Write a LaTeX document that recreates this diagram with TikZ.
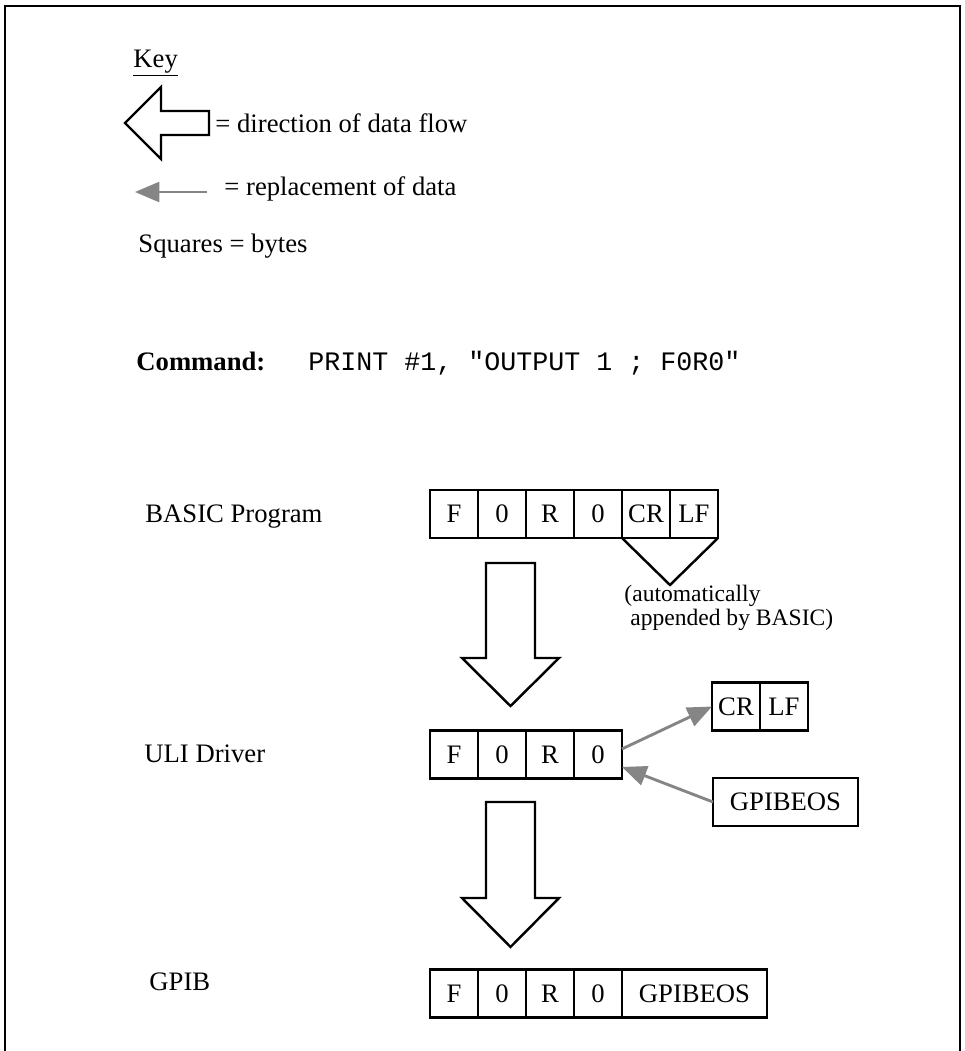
\documentclass[tikz,border=0pt]{standalone}
\usepackage{fontspec}
\setmainfont{Liberation Serif}
\setmonofont{Liberation Mono}
\usetikzlibrary{positioning,arrows.meta}

\definecolor{replgray}{rgb}{0.52,0.52,0.52}

\tikzset{
	byte/.style={draw, line width=1.2pt, outer sep=0pt, inner sep=0pt, minimum width=21.6pt, minimum height=21.6pt},
	widebyte/.style={byte, minimum width=65.25pt},
	flow/.style={draw, line width=1.1pt, line join=miter},
	replace/.style={draw=replgray, line width=1.3pt, -{Triangle[length=11pt,width=9pt]}},
	lbl/.style={anchor=base west, inner sep=0pt},
}

\begin{document}
\begin{tikzpicture}[x=0.45pt, y=-0.45pt, font=\fontsize{12}{14}\selectfont]
		\useasboundingbox (0,0) rectangle (964,1051);

		% frame, open at the bottom
		\draw [line width=0.9pt] (5,1051) -- (5,6) -- (960,6) -- (960,1051);

		% the key
		\node [lbl] (key) at (133,67) {\underline{Key}};
		\draw [flow] (209,111) -- (161,111) -- (161,87) -- (125,123) -- (161,159) -- (161,135) -- (209,135) -- cycle;
		\node [lbl] (keyflow) at (215,132) {= direction of data flow};

		\coordinate (keyR) at (207,192);
		\coordinate (keyL) at (135,192);
		\draw [replace] (keyR) -- (keyL);
		\node [lbl] (keyrepl) at (224,195) {= replacement of data};

		\node [lbl] (keybytes) at (138,252) {Squares = bytes};

		% the command
		\node [lbl] (cmd) at (136,370) {\textbf{Command:}};
		\node [lbl] (cmdtext) at (308,370) {\texttt{PRINT \#1, "OUTPUT 1 ; F0R0"}};

		% BASIC program
		\node [lbl] (basic) at (145,522) {BASIC Program};
		\node [byte] (b1) at (454,514) {F};
		\node [byte, right=0pt of b1] (b2) {0};
		\node [byte, right=0pt of b2] (b3) {R};
		\node [byte, right=0pt of b3] (b4) {0};
		\node [byte, right=0pt of b4] (b5) {CR};
		\node [byte, right=0pt of b5] (b6) {LF};

		\coordinate (apex) at (670,585);
		\draw [flow] (b5.south west) -- (apex) -- (b6.south east);
		\node [lbl, align=left, font=\fontsize{10.6}{12}\selectfont] (auto) at (624,625) {(automatically\\[-1.5pt]~appended by BASIC)};

		% first flow arrow
		\draw [flow] (486,563) -- (535,563) -- (535,658) -- (559,658) -- (510.5,706) -- (462,658) -- (486,658) -- cycle;

		% ULI driver
		\node [lbl] (uli) at (144,762) {ULI Driver};
		\node [byte] (u1) at (454,754.5) {F};
		\node [byte, right=0pt of u1] (u2) {0};
		\node [byte, right=0pt of u2] (u3) {R};
		\node [byte, right=0pt of u3] (u4) {0};

		\node [byte] (cr) at (736,706.5) {CR};
		\node [byte, right=0pt of cr] (lf) {LF};
		\node [widebyte] (eos) at (785.5,802) {GPIBEOS};

		\draw [replace] ([yshift=2.5pt]u4.east) -- (cr.west);
		\draw [replace] (eos.west) -- ([yshift=-5.6pt]u4.east);

		% second flow arrow
		\draw [flow] (486,802) -- (535,802) -- (535,898) -- (559,898) -- (510.5,947) -- (462,898) -- (486,898) -- cycle;

		% GPIB
		\node [lbl] (gpib) at (149,990) {GPIB};
		\node [byte] (g1) at (454,993.5) {F};
		\node [byte, right=0pt of g1] (g2) {0};
		\node [byte, right=0pt of g2] (g3) {R};
		\node [byte, right=0pt of g3] (g4) {0};
		\node [widebyte, right=0pt of g4] (g5) {GPIBEOS};
\end{tikzpicture}
\end{document}
